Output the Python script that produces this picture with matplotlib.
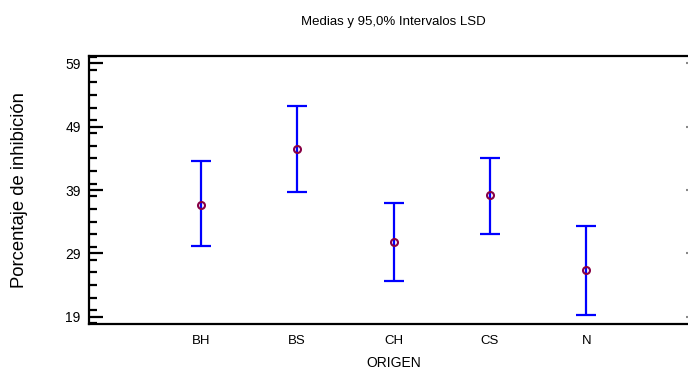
import matplotlib
matplotlib.use("Agg")
import matplotlib.pyplot as plt
from matplotlib.ticker import MultipleLocator
import numpy as np

categories = ["BH", "BS", "CH", "CS", "N"]
means = [36.7, 45.5, 30.8, 38.2, 26.3]
lower = [30.2, 38.7, 24.6, 32.0, 19.3]
upper = [43.5, 52.3, 37.0, 44.0, 33.3]
yticks = [19, 29, 39, 49, 59]

plt.rcParams['font.family'] = ['Liberation Sans', 'DejaVu Sans']

fig = plt.figure(figsize=(6.88, 3.70), dpi=100)
W, H = 688, 370
left, right, bottom, top = 89, 698, 324, 56
ax = fig.add_axes([left / W, 1 - bottom / H, (right - left) / W, (bottom - top) / H])

x = np.arange(len(categories))
m = np.array(means)
yerr = np.vstack([m - np.array(lower), np.array(upper) - m])
ax.errorbar(x, m, yerr=yerr, fmt='none', ecolor='#0000FF', elinewidth=1.6,
            capsize=7.2, capthick=1.6, zorder=2)
ax.plot(x, m, linestyle='none', marker='o', markersize=5, mfc='none',
        mec='#880044', mew=1.5, zorder=3)

ax.set_xlim(-1.16, len(categories) - 1 + 1.16)
ax.set_ylim(17.85, 60.15)
ax.set_xticks(x)
ax.set_xticklabels(categories, fontsize=9.5)
ax.set_yticks(yticks)
ax.set_yticklabels([str(v) for v in yticks], fontsize=10)
ax.yaxis.set_minor_locator(MultipleLocator(2))
ax.tick_params(axis='x', length=0, pad=8)
ax.tick_params(axis='y', which='major', direction='in', length=10, width=1.6,
               right=False, pad=6)
ax.tick_params(axis='y', which='minor', direction='in', length=6, width=1.6,
               right=False)
for s in ax.spines.values():
    s.set_linewidth(1.6)
    s.set_color('black')

sec = ax.secondary_yaxis('right')
sec.set_yticks(yticks)
sec.tick_params(direction='in', length=8.5, width=1.5, color='#888888',
                labelright=False)

ax.set_xlabel("ORIGEN", fontsize=10, labelpad=6.5)
ax.set_ylabel("Porcentaje de inhibición", fontsize=13.3)
ax.yaxis.set_label_coords((28 - left) / (right - left), 0.5)
ax.set_title("Medias y 95,0% Intervalos LSD", fontsize=9.5, pad=22)

fig.savefig("out.png", dpi=100)
